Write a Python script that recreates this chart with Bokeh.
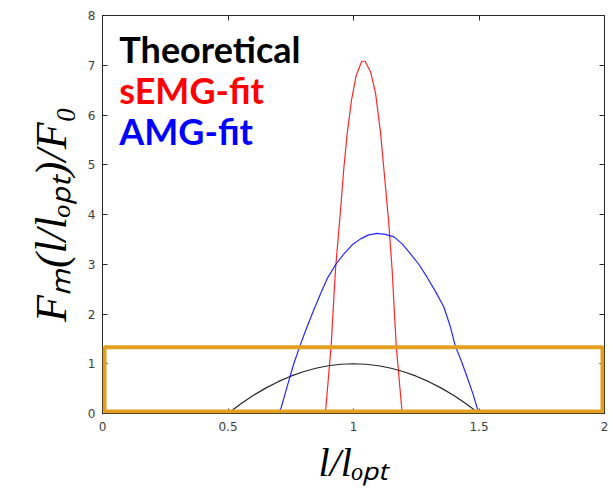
from bokeh.plotting import figure
from bokeh.models import (Range1d, LinearAxis, FixedTicker, NumeralTickFormatter, Label,
                          PolyAnnotation, CustomLabelingPolicy)
from bokeh.embed import file_html
from bokeh.resources import INLINE

# ---- data ----
theo_x = [0.0, 0.5, 0.55, 0.6, 0.65, 0.7, 0.75, 0.8, 0.85, 0.9, 0.95, 1.0,
          1.05, 1.1, 1.15, 1.2, 1.25, 1.3, 1.35, 1.4, 1.45, 1.5, 2.0]
theo_y = [0.0, 0.0, 0.19, 0.36, 0.51, 0.64, 0.75, 0.84, 0.91, 0.96, 0.99, 1.0,
          0.99, 0.96, 0.91, 0.84, 0.75, 0.64, 0.51, 0.36, 0.19, 0.0, 0.0]

semg_x = [0.0, 0.888, 0.911, 0.928, 0.946, 0.962, 0.975, 0.992, 1.011, 1.033,
          1.046, 1.068, 1.088, 1.108, 1.124, 1.141, 1.154, 1.170, 1.194, 2.0]
semg_y = [0.0, 0.0, 1.37, 2.88, 3.95, 4.96, 5.63, 6.30, 6.80, 7.08,
          7.08, 6.87, 6.43, 5.63, 4.75, 3.80, 2.88, 1.37, 0.0, 0.0]

amg_x = [0.0, 0.700, 0.712, 0.735, 0.762, 0.786, 0.810, 0.840, 0.870, 0.895, 0.930, 0.962,
         0.995, 1.028, 1.060, 1.094, 1.127, 1.161, 1.194, 1.227, 1.260, 1.293, 1.327,
         1.360, 1.385, 1.406, 1.430, 1.453, 1.477, 1.499, 2.0]
amg_y = [0.0, 0.0, 0.12, 0.53, 1.0, 1.35, 1.68, 2.06, 2.42, 2.71, 3.00, 3.21,
         3.39, 3.51, 3.59, 3.62, 3.60, 3.55, 3.41, 3.21, 3.00, 2.74, 2.45,
         2.14, 1.76, 1.35, 1.05, 0.73, 0.38, 0.0, 0.0]

series_names = ["Theoretical", "sEMG-fit", "AMG-fit"]
series_colors = ["#000000", "#FF0000", "#0000FF"]
legend_y = [7.32, 6.50, 5.67]
legend_x = 0.067

box_x = [0.008, 1.992, 1.992, 0.008]
box_y = [0.04, 0.04, 1.33, 1.33]

x_ticks = [0, 0.5, 1, 1.5, 2]
y_ticks = [0, 1, 2, 3, 4, 5, 6, 7, 8]
x_range = [0, 2]
y_range = [0, 8]

axis_col = "#262626"
tick_col = "#404040"

p = figure(width=610, height=489, output_backend="svg", toolbar_location=None,
           x_range=Range1d(*x_range), y_range=Range1d(*y_range),
           min_border_left=102, min_border_top=15, min_border_right=6, min_border_bottom=76)
p.grid.visible = False
p.background_fill_color = "white"
p.border_fill_color = "white"
p.outline_line_color = axis_col

for ax in (p.xaxis[0], p.yaxis[0]):
    ax.major_tick_in = 5
    ax.major_tick_out = 0
    ax.minor_tick_line_color = None
    ax.axis_line_color = axis_col
    ax.major_tick_line_color = axis_col
    ax.major_label_text_color = tick_col
    ax.major_label_text_font = "DejaVu Sans"
    ax.major_label_text_font_size = "12px"
    ax.major_label_standoff = 8
    ax.axis_label_text_font = "Liberation Serif"
    ax.axis_label_text_font_style = "italic"
    ax.axis_label_text_color = "#000000"

p.xaxis[0].ticker = FixedTicker(ticks=x_ticks)
p.yaxis[0].ticker = FixedTicker(ticks=y_ticks)
p.xaxis[0].formatter = NumeralTickFormatter(format="0.[0]")
p.yaxis[0].formatter = NumeralTickFormatter(format="0")
p.xaxis[0].axis_label = "l/lₒₚₜ"
p.yaxis[0].axis_label = "Fₘ(l/lₒₚₜ)/F₀"
p.xaxis[0].axis_label_text_font_size = "40px"
p.yaxis[0].axis_label_text_font_size = "44px"
p.xaxis[0].axis_label_standoff = 6
p.yaxis[0].axis_label_standoff = 9
p.yaxis[0].major_label_standoff = 7

# top and right axes (ticks only, no labels)
no_labels = "for (const i of indices) { indices.unset(i) }\nreturn indices"
top = LinearAxis(ticker=FixedTicker(ticks=x_ticks), major_label_policy=CustomLabelingPolicy(code=no_labels),
                 major_label_text_font_size="2px",
                 major_tick_in=5, major_tick_out=0, minor_tick_line_color=None,
                 axis_line_color=axis_col, major_tick_line_color=axis_col, major_label_standoff=0)
right = LinearAxis(ticker=FixedTicker(ticks=y_ticks), major_label_policy=CustomLabelingPolicy(code=no_labels),
                   major_label_text_font_size="2px",
                   major_tick_in=5, major_tick_out=0, minor_tick_line_color=None,
                   axis_line_color=axis_col, major_tick_line_color=axis_col, major_label_standoff=0)
p.add_layout(top, "above")
p.add_layout(right, "right")

p.line(theo_x, theo_y, color=series_colors[0], line_width=1.2, line_alpha=0.85)
p.line(semg_x, semg_y, color=series_colors[1], line_width=1.2, line_alpha=0.85)
p.line(amg_x, amg_y, color=series_colors[2], line_width=1.2, line_alpha=0.85)

for name, col, yy in zip(series_names, series_colors, legend_y):
    p.add_layout(Label(x=legend_x, y=yy, text=name, text_color=col,
                       text_font="Lato", text_font_style="bold", text_font_size="36px",
                       text_baseline="alphabetic"))

p.add_layout(PolyAnnotation(xs=box_x, ys=box_y, fill_alpha=0, line_alpha=1,
                            line_color="#E3A020", line_width=4))

open("out.html", "w").write(file_html(p, INLINE))
